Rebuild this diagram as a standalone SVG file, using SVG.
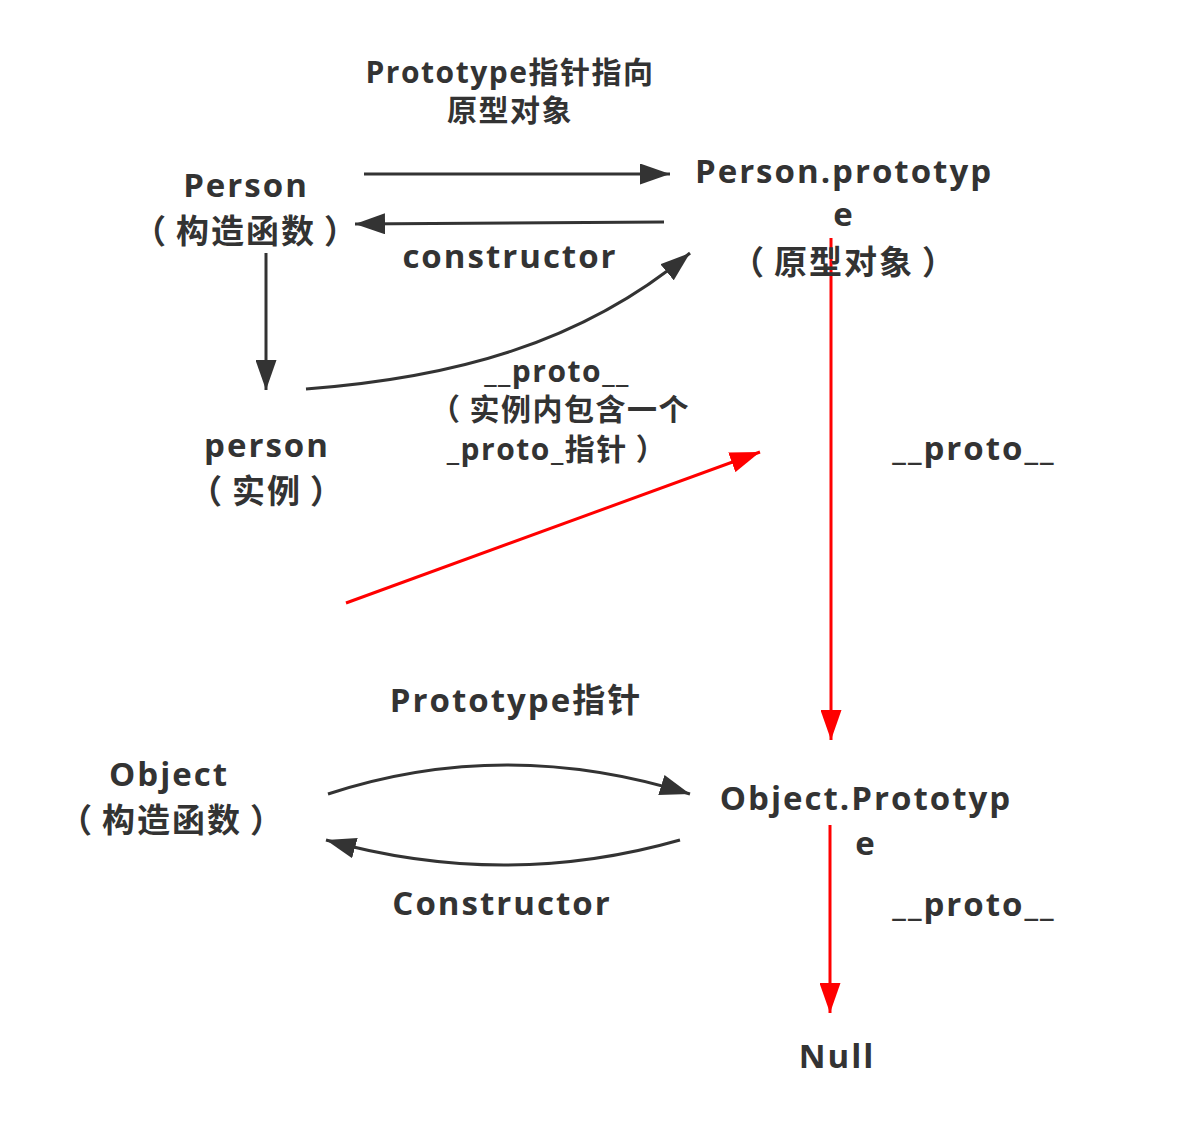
<svg xmlns="http://www.w3.org/2000/svg" width="1184" height="1142" viewBox="0 0 1184 1142">
<defs>
<style>
text{font-family:"Open Sans","Noto Sans CJK SC",sans-serif;font-weight:bold;fill:#333;text-anchor:middle}
.big{font-size:33px;letter-spacing:2px}
.sm{font-size:30px;letter-spacing:1.5px}
.dk{stroke:#333;stroke-width:3;fill:none}
.rd{stroke:#ff0000;stroke-width:3;fill:none}
</style>
<marker id="ad" viewBox="0 0 10 7" refX="10" refY="3.5" markerWidth="10" markerHeight="7" orient="auto" markerUnits="strokeWidth"><path d="M0,0L10,3.5L0,7z" fill="#333"/></marker>
<marker id="ar" viewBox="0 0 10 7" refX="10" refY="3.5" markerWidth="10" markerHeight="7" orient="auto" markerUnits="strokeWidth"><path d="M0,0L10,3.5L0,7z" fill="#ff0000"/></marker>
</defs>
<rect width="1184" height="1142" fill="#fff"/>
<g id="connectors">
<path class="dk" d="M364,174H670" marker-end="url(#ad)"/>
<path class="dk" d="M664,222L355,224" marker-end="url(#ad)"/>
<path class="dk" d="M266,253V390" marker-end="url(#ad)"/>
<path class="dk" d="M306,389C450,378 580,345 690,253" marker-end="url(#ad)"/>
<path class="rd" d="M346,603L760,452" marker-end="url(#ar)"/>
<path class="rd" d="M831,238V740" marker-end="url(#ar)"/>
<path class="dk" d="M328,794Q505,736 690,794" marker-end="url(#ad)"/>
<path class="dk" d="M680,840Q505,890 326,840" marker-end="url(#ad)"/>
<path class="rd" d="M830,825V1013" marker-end="url(#ar)"/>
</g>
<g id="label-prototype-top">
<text class="sm" x="510" y="83">Prototype指针指向</text>
<text class="sm" x="510" y="121">原型对象</text>
</g>
<g id="node-person-ctor">
<text class="big" x="246" y="197">Person</text>
<text class="big" x="246" y="243">（<tspan dx="8">构造函数</tspan><tspan dx="8">）</tspan></text>
</g>
<g id="node-person-prototype">
<text class="big" x="844" y="183">Person.prototyp</text>
<text class="big" x="844" y="226">e</text>
<text class="big" x="844" y="274">（<tspan dx="8">原型对象</tspan><tspan dx="8">）</tspan></text>
</g>
<g id="label-constructor">
<text class="big" x="510" y="268">constructor</text>
</g>
<g id="node-person-instance">
<text class="big" x="267" y="457">person</text>
<text class="big" x="267" y="503">（<tspan dx="8">实例</tspan><tspan dx="8">）</tspan></text>
</g>
<g id="label-proto-instance">
<text class="sm" x="557" y="382">__proto__</text>
<text class="sm" x="560" y="420">（<tspan dx="8">实例内包含一个</tspan></text>
<text class="sm" x="557" y="460">_proto_指针<tspan dx="8">）</tspan></text>
</g>
<g id="label-proto-1">
<text class="big" x="974" y="460">__proto__</text>
</g>
<g id="label-prototype-bottom">
<text class="big" x="516" y="712">Prototype指针</text>
</g>
<g id="node-object-ctor">
<text class="big" x="169" y="786">Object</text>
<text class="big" x="172" y="832">（<tspan dx="8">构造函数</tspan><tspan dx="8">）</tspan></text>
</g>
<g id="node-object-prototype">
<text class="big" x="866" y="810">Object.Prototyp</text>
<text class="big" x="866" y="855">e</text>
</g>
<g id="label-Constructor">
<text class="big" x="502" y="915">Constructor</text>
</g>
<g id="label-proto-2">
<text class="big" x="974" y="916">__proto__</text>
</g>
<g id="node-null">
<text class="big" x="837" y="1068">Null</text>
</g>
</svg>
